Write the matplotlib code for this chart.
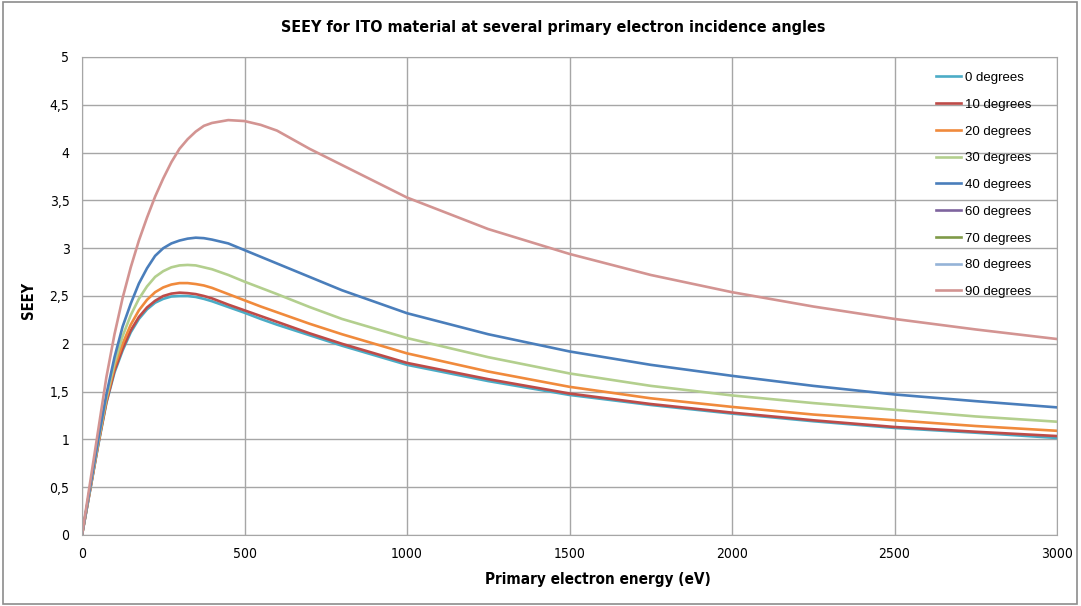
import matplotlib
matplotlib.use("Agg")
import matplotlib.pyplot as plt
from matplotlib.ticker import FuncFormatter, MultipleLocator
from matplotlib.patches import Rectangle

# primary electron energy (eV)
energy = [0, 25, 50, 75, 100, 125, 150, 175, 200, 225, 250, 275, 300, 325, 350, 375, 400,
          450, 500, 550, 600, 700, 800, 900, 1000, 1250, 1500, 1750, 2000, 2250, 2500,
          2750, 3000]

# SEEY, one list per incidence angle
seey_0 = [0, 0.47, 0.94, 1.38, 1.70, 1.93, 2.12, 2.26, 2.36, 2.43, 2.47, 2.495, 2.50, 2.50,
          2.49, 2.47, 2.445, 2.385, 2.325, 2.26, 2.20, 2.09, 1.98, 1.88, 1.78, 1.61, 1.465,
          1.36, 1.27, 1.19, 1.12, 1.07, 1.015]
seey_10 = [0, 0.47, 0.95, 1.39, 1.72, 1.95, 2.14, 2.28, 2.38, 2.45, 2.50, 2.525, 2.535, 2.53,
           2.52, 2.50, 2.475, 2.41, 2.35, 2.29, 2.23, 2.11, 2.00, 1.90, 1.80, 1.63, 1.48,
           1.37, 1.28, 1.20, 1.13, 1.08, 1.035]
seey_20 = [0, 0.48, 0.96, 1.41, 1.76, 2.00, 2.20, 2.35, 2.46, 2.54, 2.59, 2.62, 2.635, 2.635,
           2.625, 2.61, 2.585, 2.52, 2.455, 2.39, 2.33, 2.21, 2.10, 2.00, 1.90, 1.71, 1.55,
           1.43, 1.34, 1.26, 1.20, 1.14, 1.09]
seey_30 = [0, 0.49, 0.98, 1.44, 1.80, 2.08, 2.30, 2.47, 2.60, 2.70, 2.76, 2.80, 2.82, 2.825,
           2.82, 2.80, 2.78, 2.72, 2.65, 2.585, 2.52, 2.385, 2.26, 2.16, 2.06, 1.86, 1.69,
           1.56, 1.46, 1.38, 1.31, 1.24, 1.185]
seey_40 = [0, 0.50, 1.00, 1.47, 1.86, 2.18, 2.42, 2.63, 2.79, 2.92, 3.00, 3.05, 3.08, 3.10,
           3.11, 3.105, 3.09, 3.05, 2.98, 2.91, 2.84, 2.70, 2.56, 2.44, 2.32, 2.10, 1.92,
           1.78, 1.665, 1.56, 1.47, 1.40, 1.335]
seey_60 = []
seey_70 = []
seey_80 = []
seey_90 = [0, 0.55, 1.10, 1.65, 2.10, 2.48, 2.80, 3.08, 3.32, 3.54, 3.73, 3.90, 4.04, 4.14,
           4.22, 4.28, 4.31, 4.34, 4.33, 4.29, 4.23, 4.04, 3.87, 3.70, 3.53, 3.20, 2.94,
           2.72, 2.54, 2.39, 2.26, 2.15, 2.05]

labels = ["0 degrees", "10 degrees", "20 degrees", "30 degrees", "40 degrees",
          "60 degrees", "70 degrees", "80 degrees", "90 degrees"]
series = [seey_0, seey_10, seey_20, seey_30, seey_40, seey_60, seey_70, seey_80, seey_90]
colors = ["#4BACC6", "#BE4B48", "#F08A3C", "#B3CF8E", "#4A7EBB",
          "#7E649E", "#7F9A48", "#95B3D7", "#D39492"]

narrow = ["DejaVu Sans"]

fig = plt.figure(figsize=(10.81, 6.06), dpi=100)
fig.patches.append(Rectangle((0.003, 0.004), 0.993, 0.992, transform=fig.transFigure,
                             fill=False, edgecolor="#8C8C8C", lw=1.2))
ax = fig.add_axes([82 / 1081, 1 - 535 / 606, 975 / 1081, 478 / 606])

for s, lab, c in zip(series, labels, colors):
    ax.plot(energy[:len(s)], s, color=c, lw=1.9, label=lab)

ax.set_xlim(0, 3000)
ax.set_ylim(0, 5)
ax.xaxis.set_major_locator(MultipleLocator(500))
ax.yaxis.set_major_locator(MultipleLocator(0.5))
ax.yaxis.set_major_formatter(FuncFormatter(lambda v, p: ("%g" % v).replace(".", ",")))
ax.grid(True, color="#A6A6A6", lw=1)
ax.set_axisbelow(True)
for sp in ax.spines.values():
    sp.set_color("#A6A6A6")
ax.tick_params(length=0, pad=9, labelsize=10)
for t in ax.get_xticklabels() + ax.get_yticklabels():
    t.set_family(narrow)
    t.set_stretch("condensed")

title = ax.set_title("SEEY for ITO material at several primary electron incidence angles",
                     family=narrow, stretch="condensed", fontsize=11.5, fontweight="bold",
                     pad=18)
title.set_x((553 - 82) / 975)
ax.set_xlabel("Primary electron energy (eV)", family=narrow, stretch="condensed",
              fontsize=11, fontweight="bold")
ax.xaxis.set_label_coords((598 - 82) / 975, -0.078)
ax.set_ylabel("SEEY", family=narrow, stretch="condensed", fontsize=10.5,
              fontweight="bold")
ax.yaxis.set_label_coords(-0.047, 0.49)

ax.legend(loc="upper left", bbox_to_anchor=(924 / 1081, 1 - 60 / 606),
          bbox_transform=fig.transFigure, frameon=False,
          handlelength=1.9, handletextpad=0.3, labelspacing=1.1,
          prop={"family": ["Liberation Sans", "DejaVu Sans"], "size": 9.5})

fig.savefig("out.png", dpi=100)
